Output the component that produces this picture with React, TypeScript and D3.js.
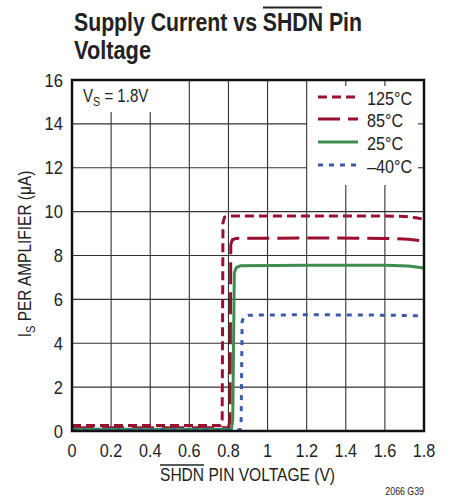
import React from "react";
import * as d3 from "d3";

const xTicks = [0, 0.2, 0.4, 0.6, 0.8, 1, 1.2, 1.4, 1.6, 1.8];
const xTickLabels = ["0", "0.2", "0.4", "0.6", "0.8", "1", "1.2", "1.4", "1.6", "1.8"];
const yTicks = [0, 2, 4, 6, 8, 10, 12, 14, 16];

const x125 = [0, 0.76, 0.768, 0.772, 0.78, 0.8, 1.2, 1.6, 1.7, 1.76, 1.8];
const y125 = [0.25, 0.25, 0.5, 9.5, 9.75, 9.8, 9.8, 9.8, 9.78, 9.72, 9.65];
const x85 = [0, 0.8, 0.808, 0.812, 0.82, 0.84, 1.2, 1.6, 1.72, 1.8];
const y85 = [0.15, 0.15, 0.5, 8.5, 8.72, 8.78, 8.8, 8.78, 8.74, 8.66];
const x25 = [0, 0.815, 0.822, 0.83, 0.84, 0.86, 1.2, 1.6, 1.72, 1.8];
const y25 = [0.08, 0.08, 0.5, 7.2, 7.45, 7.53, 7.55, 7.55, 7.52, 7.43];
const xm40 = [0, 0.86, 0.865, 0.87, 0.88, 0.9, 1.2, 1.6, 1.8];
const ym40 = [0.05, 0.05, 0.5, 5.0, 5.22, 5.28, 5.3, 5.28, 5.25];

const seriesNames = ["125°C", "85°C", "25°C", "–40°C"];

const RED = "#9a0f30";
const GREEN = "#3f8c4f";
const BLUE = "#3a5aaa";

const series = [
  { name: seriesNames[0], xs: x125, ys: y125, color: RED, dash: "9,5" },
  { name: seriesNames[1], xs: x85, ys: y85, color: RED, dash: "22,8" },
  { name: seriesNames[2], xs: x25, ys: y25, color: GREEN, dash: "" },
  { name: seriesNames[3], xs: xm40, ys: ym40, color: BLUE, dash: "5,6" },
];

const L = 72, R = 424, T = 80, B = 431;
const FONT = "'Liberation Sans', Arial, sans-serif";
const INK = "#222";

export default function App() {
  const x = d3.scaleLinear().domain([0, 1.8]).range([L, R]);
  const y = d3.scaleLinear().domain([0, 16]).range([B, T]);
  const line = d3.line<[number, number]>().x((d) => x(d[0])).y((d) => y(d[1]));

  const vsBoxBottom = 112;
  const legBoxLeft = x(1.2);
  const legBoxBottom = 185;

  const vLines = xTicks.slice(1, -1).map((t) => {
    const px = x(t);
    if (t < 0.55) return { px, y1: vsBoxBottom, y2: B, stub: false };
    if (t > 1.25) return { px, y1: legBoxBottom, y2: B, stub: true };
    return { px, y1: T, y2: B, stub: false };
  });
  const hLines = yTicks.slice(1, -1).map((t) => {
    const py = y(t);
    if (py < legBoxBottom) return { py, x1: L, x2: legBoxLeft, stub: true };
    return { py, x1: L, x2: R, stub: false };
  });

  const legY = [98, 120, 143, 166];

  return (
    <svg width={453} height={498} style={{ display: "block", position: "absolute", left: 0, top: 0 }}>
      <rect width={453} height={498} fill="#fff" />
      <text x={74} y={31} fontFamily={FONT} fontWeight="bold" fontSize={25} fill={INK} textLength={288} lengthAdjust="spacingAndGlyphs">
        Supply Current vs SHDN Pin
      </text>
      <line x1={263} x2={322} y1={7.5} y2={7.5} stroke={INK} strokeWidth={2} />
      <text x={74} y={59} fontFamily={FONT} fontWeight="bold" fontSize={25} fill={INK} textLength={77} lengthAdjust="spacingAndGlyphs">
        Voltage
      </text>

      {vLines.map((v, i) => (
        <g key={"v" + i}>
          <line x1={v.px} x2={v.px} y1={v.y1} y2={v.y2} stroke="#333" strokeWidth={1.1} />
          {v.stub && <line x1={v.px} x2={v.px} y1={T} y2={T + 6} stroke="#333" strokeWidth={1.1} />}
        </g>
      ))}
      {hLines.map((h, i) => (
        <g key={"h" + i}>
          <line x1={h.x1} x2={h.x2} y1={h.py} y2={h.py} stroke="#333" strokeWidth={1.1} />
          {h.stub && <line x1={R - 6} x2={R} y1={h.py} y2={h.py} stroke="#333" strokeWidth={1.1} />}
        </g>
      ))}

      {series.map((s) => (
        <path
          key={s.name}
          d={line(s.xs.map((v, i) => [v, s.ys[i]] as [number, number])) || ""}
          fill="none"
          stroke={s.color}
          strokeWidth={3}
          strokeDasharray={s.dash || undefined}
          strokeLinejoin="round"
        />
      ))}

      <rect x={L} y={T} width={R - L} height={B - T} fill="none" stroke="#111" strokeWidth={2.5} />

      {yTicks.map((t) => (
        <text key={"yt" + t} transform={`translate(63,${y(t) + 6.5}) scale(0.92,1)`} textAnchor="end" fontFamily={FONT} fontSize={18} fill={INK}>
          {t}
        </text>
      ))}
      {xTicks.map((t, i) => (
        <text key={"xt" + t} transform={`translate(${x(t)},${456.5}) scale(0.9,1)`} textAnchor="middle" fontFamily={FONT} fontSize={18} fill={INK}>
          {xTickLabels[i]}
        </text>
      ))}

      <text x={160} y={481} fontFamily={FONT} fontSize={19} fill={INK} textLength={175} lengthAdjust="spacingAndGlyphs">
        SHDN PIN VOLTAGE (V)
      </text>
      <line x1={160} x2={204} y1={465} y2={465} stroke={INK} strokeWidth={1.3} />

      <text transform={`translate(31,254) rotate(-90) scale(0.86,1)`} textAnchor="middle" fontFamily={FONT} fontSize={18} fill={INK}>
        I<tspan fontSize={13} dy={4}>S</tspan><tspan dy={-4}> PER AMPLIFIER (μA)</tspan>
      </text>
      <text transform={`translate(424,495) scale(0.8,1)`} textAnchor="end" fontFamily={FONT} fontSize={11} fill={INK}>
        2066 G39
      </text>

      <text transform={`translate(83,102) scale(0.86,1)`} fontFamily={FONT} fontSize={17.5} fill={INK}>
        V<tspan fontSize={12.5} dy={4}>S</tspan><tspan dy={-4}> = 1.8V</tspan>
      </text>

      {series.map((s, i) => (
        <g key={"lg" + i}>
          <line x1={318} x2={358} y1={legY[i] - 1} y2={legY[i] - 1} stroke={s.color} strokeWidth={3} strokeDasharray={s.dash || undefined} />
          <text transform={`translate(367,${legY[i] + 6.5}) scale(0.9,1)`} fontFamily={FONT} fontSize={18} fill={INK}>
            {s.name}
          </text>
        </g>
      ))}
    </svg>
  );
}
